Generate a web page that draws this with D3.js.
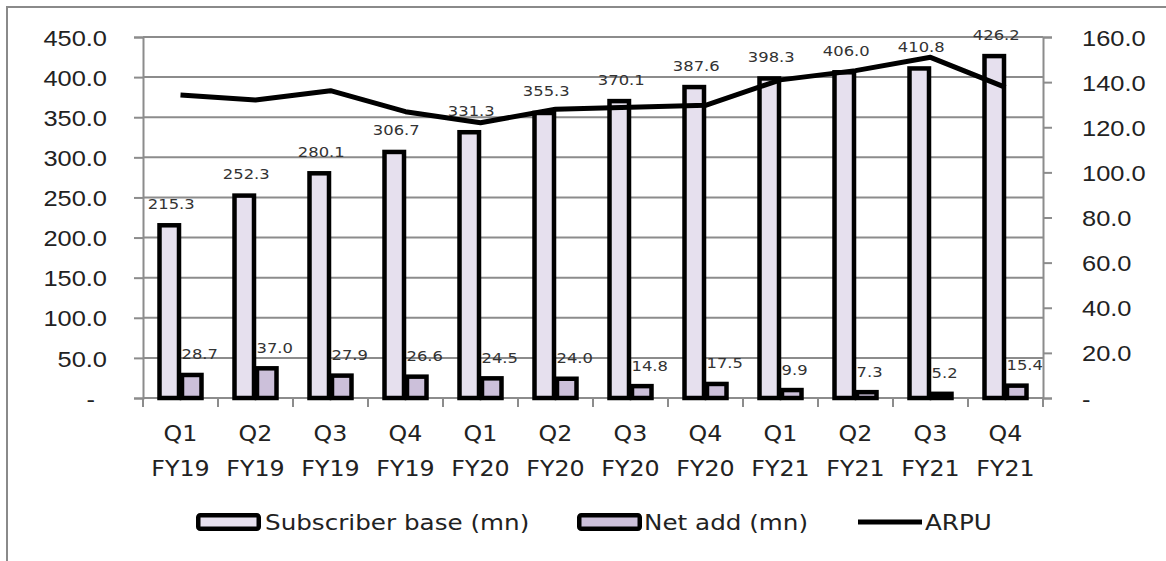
<!DOCTYPE html>
<html>
<head>
<meta charset="utf-8">
<script src="https://cdn.jsdelivr.net/npm/d3@7"></script>
<style>
  html, body { margin: 0; padding: 0; background: #fff; }
  svg { display: block; font-family: "DejaVu Sans", Verdana, sans-serif; }
</style>
</head>
<body>
<svg id="chart" width="1166" height="561"></svg>
<script>
// Quarterly subscriber base, net additions and ARPU
const categories = ["Q1 FY19", "Q2 FY19", "Q3 FY19", "Q4 FY19",
                    "Q1 FY20", "Q2 FY20", "Q3 FY20", "Q4 FY20",
                    "Q1 FY21", "Q2 FY21", "Q3 FY21", "Q4 FY21"];
const subscriberBase = [215.3, 252.3, 280.1, 306.7, 331.3, 355.3, 370.1, 387.6, 398.3, 406.0, 410.8, 426.2];
const netAdd = [28.7, 37.0, 27.9, 26.6, 24.5, 24.0, 14.8, 17.5, 9.9, 7.3, 5.2, 15.4];
const arpu = [134.3, 132.1, 136.2, 126.9, 122.0, 128.0, 128.9, 129.7, 141.0, 145.1, 151.0, 137.7];
const leftTicks = [0, 50, 100, 150, 200, 250, 300, 350, 400, 450];
const rightTicks = [0, 20, 40, 60, 80, 100, 120, 140, 160];
const seriesNames = ["Subscriber base (mn)", "Net add (mn)", "ARPU"];

const svg = d3.select("#chart");
const plot = { left: 143, right: 1043, top: 37, bottom: 398 };
const SX = 1.13;               // horizontal stretch applied to all text
const GRID = "#8c8c8c";
const fills = ["#e6e0ee", "#ccc0da"];

const x0 = d3.scaleBand().domain(categories)
  .range([plot.left, plot.right]).paddingInner(0.4).paddingOuter(0.2);
const x1 = d3.scaleBand().domain([0, 1]).range([0, x0.bandwidth()]);
const yL = d3.scaleLinear().domain([0, 450]).range([plot.bottom, plot.top]);
const yR = d3.scaleLinear().domain([0, 160]).range([plot.bottom, plot.top]);
const center = c => x0(c) + x0.bandwidth() / 2;

function stretched(sel, x, y) {
  sel.attr("x", 0).attr("y", 0)
     .attr("transform", `translate(${x},${y}) scale(${SX},1)`);
}

// outer frame
svg.append("path").attr("d", "M7,561V7H1166")
  .attr("fill", "none").attr("stroke", "#8a8a8a").attr("stroke-width", 2);

// horizontal gridlines
svg.append("g").selectAll("line").data(leftTicks.filter(d => d > 0)).join("line")
  .attr("x1", plot.left).attr("x2", plot.right)
  .attr("y1", d => yL(d)).attr("y2", d => yL(d))
  .attr("stroke", GRID).attr("stroke-width", 2);

// left axis
const axL = svg.append("g").attr("transform", `translate(${plot.left},0)`)
  .call(d3.axisLeft(yL).tickValues(leftTicks).tickSize(9).tickPadding(36)
    .tickFormat(d => d === 0 ? "-" : d.toFixed(1)));
axL.select(".domain").attr("stroke", GRID).attr("stroke-width", 2);
axL.selectAll(".tick line").attr("stroke", GRID).attr("stroke-width", 2);
axL.selectAll(".tick text").each(function (d) {
  const t = d3.select(this);
  t.attr("fill", "#222").attr("font-size", 22.5).attr("dy", "0.36em");
  stretched(t, d === 0 ? -48 : -36, 0);
});

// right axis
const axR = svg.append("g").attr("transform", `translate(${plot.right},0)`)
  .call(d3.axisRight(yR).tickValues(rightTicks).tickSize(9).tickPadding(39)
    .tickFormat(d => d === 0 ? "-" : d.toFixed(1)));
axR.select(".domain").attr("stroke", GRID).attr("stroke-width", 2);
axR.selectAll(".tick line").attr("stroke", GRID).attr("stroke-width", 2);
axR.selectAll(".tick text").each(function (d) {
  const t = d3.select(this);
  t.attr("fill", "#222").attr("font-size", 22.5).attr("dy", "0.36em");
  stretched(t, 39, 0);
});

// category axis: baseline, boundary ticks, two-line labels
svg.append("line").attr("x1", plot.left).attr("x2", plot.right)
  .attr("y1", plot.bottom).attr("y2", plot.bottom)
  .attr("stroke", GRID).attr("stroke-width", 2);
const half = (x0.step() - x0.bandwidth()) / 2;
const bounds = categories.map(c => x0(c) - half).concat([x0(categories[11]) + x0.bandwidth() + half]);
svg.append("g").selectAll("line").data(bounds).join("line")
  .attr("x1", d => d).attr("x2", d => d)
  .attr("y1", plot.bottom).attr("y2", plot.bottom + 9)
  .attr("stroke", GRID).attr("stroke-width", 2);
const xl = svg.append("g").selectAll("g").data(categories).join("g");
xl.append("text").text(d => d.split(" ")[0]).attr("text-anchor", "middle")
  .attr("font-size", 21).attr("fill", "#222")
  .each(function (d) { stretched(d3.select(this), center(d), 441); });
xl.append("text").text(d => d.split(" ")[1]).attr("text-anchor", "middle")
  .attr("font-size", 21).attr("fill", "#222")
  .each(function (d) { stretched(d3.select(this), center(d), 476); });

// net-add value labels sit underneath the bars
svg.append("g").selectAll("text").data(categories).join("text")
  .text((d, i) => netAdd[i].toFixed(1))
  .attr("font-size", 14.5).attr("fill", "#333")
  .each(function (d, i) { stretched(d3.select(this), center(d) + 1, yL(netAdd[i]) - 15.5); });

// bars
const groups = svg.append("g").selectAll("g").data(categories).join("g")
  .attr("transform", d => `translate(${x0(d)},0)`);
const SW = 4.5;
groups.append("rect")
  .attr("x", x1(0) + 1.5).attr("width", x1.bandwidth() - 3)
  .attr("y", (d, i) => yL(subscriberBase[i]))
  .attr("height", (d, i) => yL(0) - yL(subscriberBase[i]))
  .attr("fill", fills[0]).attr("stroke", "#000").attr("stroke-width", SW);
groups.append("rect")
  .attr("x", x1(1) + 1.5).attr("width", x1.bandwidth() - 3)
  .attr("y", (d, i) => yL(netAdd[i]))
  .attr("height", (d, i) => yL(0) - yL(netAdd[i]))
  .attr("fill", fills[1]).attr("stroke", "#000").attr("stroke-width", SW);

// subscriber value labels
svg.append("g").selectAll("text").data(categories).join("text")
  .text((d, i) => subscriberBase[i].toFixed(1))
  .attr("text-anchor", "middle").attr("font-size", 14.5).attr("fill", "#333")
  .each(function (d, i) {
    stretched(d3.select(this), x0(d) + x1(0) + x1.bandwidth() / 2 + 2, yL(subscriberBase[i]) - 16.5);
  });

// ARPU line on the right axis
const line = d3.line().x((d, i) => center(categories[i])).y(d => yR(d));
svg.append("path").datum(arpu).attr("d", line)
  .attr("fill", "none").attr("stroke", "#000").attr("stroke-width", 5)
  .attr("stroke-linejoin", "round").attr("stroke-linecap", "butt");

// legend
const leg = svg.append("g");
const legY = 522;
const items = [
  { kind: "bar", fill: fills[0], x: 196, tx: 265 },
  { kind: "bar", fill: fills[1], x: 577, tx: 644 },
  { kind: "line", x: 858, tx: 925 }
];
items.forEach((it, i) => {
  if (it.kind === "bar") {
    leg.append("rect").attr("x", it.x + 2.25).attr("y", legY - 9 + 2.25)
      .attr("width", 65 - 4.5).attr("height", 18 - 4.5).attr("rx", 2)
      .attr("fill", it.fill).attr("stroke", "#000").attr("stroke-width", SW);
  } else {
    leg.append("line").attr("x1", it.x).attr("x2", it.x + 64)
      .attr("y1", legY).attr("y2", legY)
      .attr("stroke", "#000").attr("stroke-width", 5);
  }
  const t = leg.append("text").text(seriesNames[i]).attr("font-size", 21.8).attr("fill", "#222");
  stretched(t, it.tx, legY + 8);
});
</script>
</body>
</html>
